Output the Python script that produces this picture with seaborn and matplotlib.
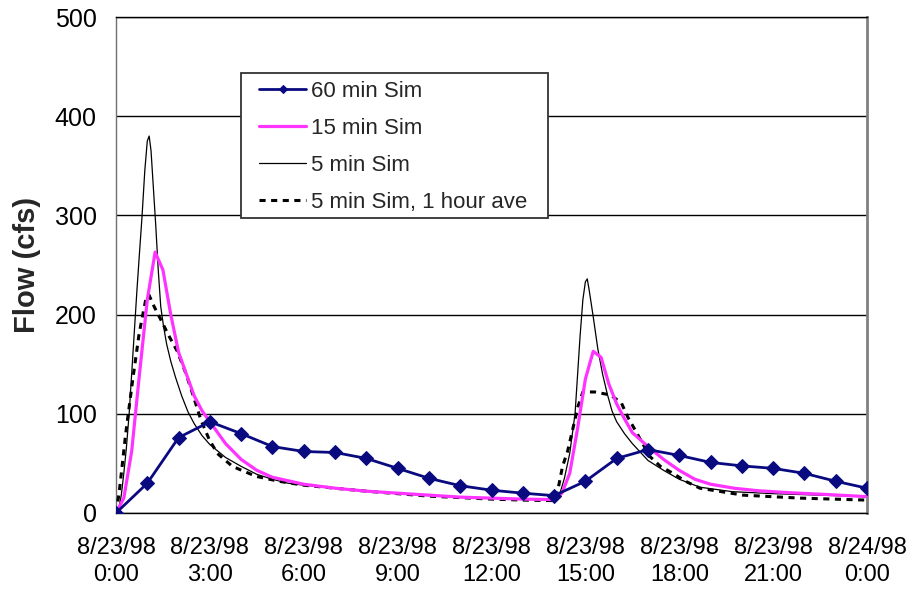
import matplotlib
matplotlib.use("Agg")
import matplotlib.pyplot as plt
import seaborn as sns
import pandas as pd
from matplotlib.patches import Rectangle

# ---- data (hours since 8/23/98 0:00, flow in cfs) ----
hours_60 = list(range(0, 25))
flow_60 = [0, 30, 76, 92, 80, 67, 62, 61, 55, 45, 35, 27.5, 23, 20, 17.5,
           32, 55, 64, 58, 51, 47.5, 45, 40, 32, 25]

t15 = [0, 0.25, 0.5, 0.75, 1.0, 1.25, 1.5, 1.75, 2.0, 2.25, 2.5, 2.75, 3.0, 3.5,
       4.0, 4.5, 5.0, 6.0, 7, 8, 9, 10, 11, 12, 13, 14, 14.25, 14.5, 14.75, 15.0,
       15.25, 15.5, 15.75, 16.0, 16.25, 16.5, 17.0, 17.5, 18.0, 18.5, 19.0, 19.75,
       20.5, 21.5, 22.5, 24]
flow_15 = [0, 15, 62, 140, 215, 263, 245, 200, 162, 140, 118, 103, 92, 70,
           54, 43, 36, 29, 25, 22, 20, 18, 16, 15, 14, 13.5, 20, 40, 85, 135,
           163, 157, 130, 110, 95, 81, 67, 54, 43, 34, 29, 25,
           22.5, 20.5, 19, 16.5]

t5 = [0, 0.08, 0.17, 0.25, 0.33, 0.42, 0.5, 0.58, 0.67, 0.75, 0.83, 0.92, 1.0,
      1.06, 1.12, 1.19, 1.27, 1.35, 1.43, 1.52, 1.62, 1.75, 1.9, 2.1, 2.3, 2.5,
      2.75, 3.0, 3.5, 4.0, 4.5, 5.0, 5.5, 6.0, 7, 8, 9, 10, 11, 12, 13, 14, 14.17,
      14.33, 14.5, 14.67, 14.83, 14.92, 15.0, 15.06, 15.12, 15.25, 15.4, 15.55,
      15.7, 15.85, 16.0, 16.25, 16.5, 17.0, 17.5, 18.0, 18.66, 19.7, 21, 22.5, 24]
flow_5 = [0, 3, 18, 40, 65, 100, 140, 180, 225, 262, 298, 345, 375,
          380, 365, 330, 290, 245, 208, 188, 170, 153, 137, 118, 102, 90,
          78, 69, 56, 47, 39, 34, 30, 28, 25, 22, 19.5, 17.5, 16, 15, 14, 13, 18,
          35, 60, 100, 178, 215, 233, 236, 225, 198, 165, 140,
          120, 103, 92, 80, 70, 53, 43, 34, 26, 21.5, 19.5, 18, 16.5]

t_avg = [0, 0.1, 0.31, 0.52, 0.74, 0.95, 1.05, 1.22, 1.43, 1.7, 1.96, 2.23, 2.44,
         2.71, 2.98, 3.24, 3.72, 4.47, 5.2, 6, 7, 8, 9, 10, 11, 12, 13, 14, 14.1,
         14.27, 14.43, 14.6, 14.76, 14.92, 15.3, 15.8, 16.15, 16.35, 16.53, 17.06,
         17.4, 17.8, 18.2, 18.66, 20.04, 21.86, 24]
flow_avg = [0, 20, 80, 131, 181, 215, 220, 208, 195, 178, 163, 141, 121,
            94, 74, 60, 47, 37, 32, 28, 25, 22, 19.5, 17, 15.5, 14, 13, 12.5, 20,
            47, 62, 85, 107, 122, 122, 119, 111, 97, 87, 57,
            47, 40, 32, 25, 18, 15, 13]

tick_hours = [0, 3, 6, 9, 12, 15, 18, 21, 24]
tick_labels = ["8/23/98\n0:00", "8/23/98\n3:00", "8/23/98\n6:00", "8/23/98\n9:00",
               "8/23/98\n12:00", "8/23/98\n15:00", "8/23/98\n18:00",
               "8/23/98\n21:00", "8/24/98\n0:00"]
y_ticks = [0, 100, 200, 300, 400, 500]

labels = ["60 min Sim", "15 min Sim", "5 min Sim", "5 min Sim, 1 hour ave"]

# ---- figure ----
sns.set_theme(style="white")
plt.rcParams["font.family"] = ["Liberation Sans", "DejaVu Sans"]

fig = plt.figure(figsize=(9.08, 5.90), dpi=100)
ax = fig.add_axes([116 / 908, 77 / 590, 751 / 908, 496 / 590])

df60 = pd.DataFrame({"t": hours_60, "q": flow_60})
df15 = pd.DataFrame({"t": t15, "q": flow_15})
df5 = pd.DataFrame({"t": t5, "q": flow_5})
dfa = pd.DataFrame({"t": t_avg, "q": flow_avg})

sns.lineplot(data=df5, x="t", y="q", ax=ax, color="black", lw=0.9,
             estimator=None, sort=False, label=labels[2], zorder=3)
sns.lineplot(data=dfa, x="t", y="q", ax=ax, color="black", lw=2.2,
             linestyle=(0, (2.0, 1.8)), estimator=None, sort=False,
             label=labels[3], zorder=4)
sns.lineplot(data=df15, x="t", y="q", ax=ax, color="#FF33FF", lw=2.3,
             estimator=None, sort=False, label=labels[1], zorder=5)
sns.lineplot(data=df60, x="t", y="q", ax=ax, color="#0A0A80", lw=2.0,
             marker="D", markersize=7.5, markeredgecolor="#0A0A80",
             estimator=None, sort=False, label=labels[0], zorder=6)

ax.set_xlim(0, 24)
ax.set_ylim(0, 500)
ax.set_xticks(tick_hours)
ax.set_xticklabels(tick_labels, fontsize=17, linespacing=1.3)
ax.set_yticks(y_ticks)
ax.set_yticklabels([str(v) for v in y_ticks], fontsize=18)
ax.set_xlabel("")
ax.set_ylabel("Flow (cfs)", fontsize=21, fontweight="bold", labelpad=10)

ax.yaxis.grid(True, color="black", lw=1.0)
ax.xaxis.grid(False)
ax.tick_params(axis="both", direction="out", length=6, width=1, color="#555555",
               colors="black")
ax.tick_params(axis="x", pad=11)
ax.tick_params(axis="y", pad=8)

ax.spines["left"].set_color("#707070")
ax.spines["left"].set_linewidth(1.0)
ax.spines["bottom"].set_color("black")
ax.spines["bottom"].set_linewidth(1.0)
ax.spines["right"].set_color("#808080")
ax.spines["right"].set_linewidth(2.0)
ax.spines["top"].set_color("black")
ax.spines["top"].set_linewidth(1.0)

# legend box
x0 = (241 - 116) / 751
y1 = (513 - 73) / 496
x1 = (548 - 116) / 751
y0 = (513 - 218) / 496
ax.add_patch(Rectangle((x0, y0), x1 - x0, y1 - y0, transform=ax.transAxes,
                       facecolor="white", edgecolor="#333333", lw=1.3, zorder=7))

handles, labs = ax.get_legend_handles_labels()
order = [labs.index(l) for l in labels]
leg = ax.legend([handles[i] for i in order], [labs[i] for i in order],
                loc="upper left", bbox_to_anchor=((252 - 116) / 751, (513 - 74) / 496),
                frameon=False, fontsize=16, handlelength=2.15, handletextpad=0.2,
                labelspacing=0.72, borderpad=0.3, borderaxespad=0, markerscale=0.6)
leg.set_zorder(8)

fig.savefig("out.png", dpi=100, facecolor="white")
